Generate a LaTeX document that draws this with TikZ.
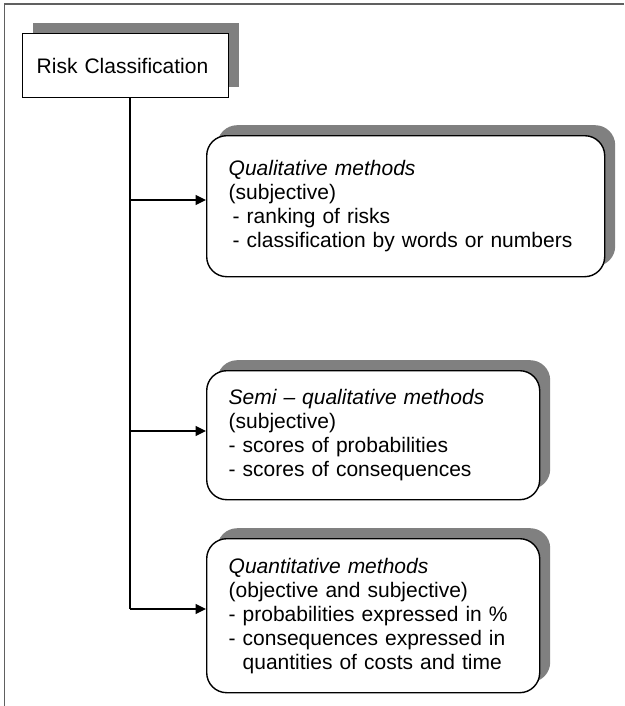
\documentclass[tikz,border=0pt]{standalone}
\usepackage{fontspec}
\setmainfont{Liberation Sans}
\usetikzlibrary{shadows,arrows.meta}
\definecolor{shadowgray}{RGB}{128,128,128}
\definecolor{framegray}{RGB}{96,96,96}
\begin{document}
\begin{tikzpicture}[x=1pt,y=-1pt,
  every node/.style={font=\fontsize{21}{24}\selectfont},
  boxshadow/.style={drop shadow={shadow xshift=10.5pt,shadow yshift=10.5pt,fill=shadowgray,opacity=1}},
  rootbox/.style={draw=black,line width=1.4pt,fill=white,boxshadow,
    anchor=north west,inner xsep=14pt,inner ysep=0pt,align=left,
    text width=178pt,minimum height=64pt},
  methodbox/.style={draw=black,line width=1.4pt,fill=white,boxshadow,
    rounded corners=20pt,anchor=north west,inner xsep=22pt,inner ysep=0pt,align=left},
  link/.style={line width=1.4pt},
  arrowlink/.style={line width=1.4pt,-{Triangle[length=10.5pt,width=10pt]}}
]
\useasboundingbox (0,0) rectangle (624,706);

% outer frame (only its top and left edges fall inside the page)
\draw[framegray,line width=1.6pt] (624,4) -- (4.5,4) -- (4.5,706);

% root
\node[rootbox] (risk) at (22,33) {Risk Classification};

% method boxes
\node[methodbox,text width=354pt,minimum height=141pt] (qual) at (206,135)
  {\textit{Qualitative methods}\\
   (subjective)\\
   \hspace*{4pt}- ranking of risks\\
   \hspace*{4pt}- classification by words or numbers};

\node[methodbox,text width=289pt,minimum height=129pt] (semi) at (206,370)
  {\textit{Semi – qualitative methods}\\
   (subjective)\\
   - scores of probabilities\\
   - scores of consequences};

\node[methodbox,text width=289pt,minimum height=154pt] (quant) at (206,538)
  {\textit{Quantitative methods}\\
   (objective and subjective)\\
   - probabilities expressed in \%\\
   - consequences expressed in\\
   \phantom{-\ }quantities of costs and time};

% branching connectors
\coordinate (j1) at (130,200);
\coordinate (j2) at (130,431);
\coordinate (j3) at (130,609);
\draw[link] (risk.south -| j3) -- (j3);
\draw[arrowlink] (j1) -- (j1 -| qual.west);
\draw[arrowlink] (j2) -- (j2 -| semi.west);
\draw[arrowlink] (j3) -- (j3 -| quant.west);
\end{tikzpicture}
\end{document}
